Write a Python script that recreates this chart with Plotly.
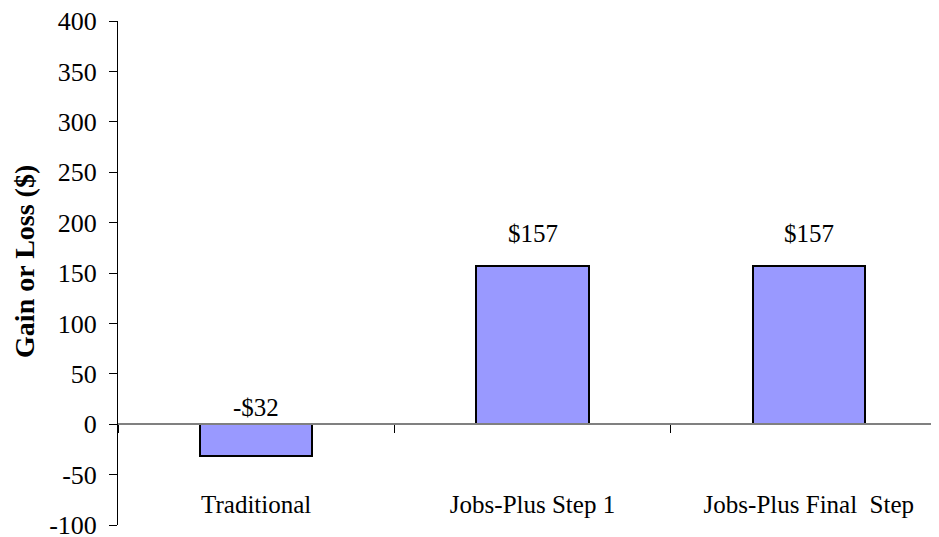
import plotly.graph_objects as go

categories = ['Traditional', 'Jobs-Plus Step 1', 'Jobs-Plus Final  Step']
gain_loss = [-32, 157, 157]
bar_labels = ['-$32', '$157', '$157']
y_tickvals = [-100, -50, 0, 50, 100, 150, 200, 250, 300, 350, 400]
y_ticktext = ['-100', '-50', '0', '50', '100', '150', '200', '250', '300', '350', '400']

font_family = 'Liberation Serif, Times New Roman, serif'

fig = go.Figure()
fig.add_trace(go.Bar(x=categories, y=gain_loss, width=0.406,
                     marker=dict(color='#9999FF', line=dict(color='black', width=2)),
                     hoverinfo='skip'))

# value labels sit above the bar top (or above zero for the loss)
for cat, val, lab in zip(categories, gain_loss, bar_labels):
    fig.add_annotation(x=cat, y=max(val, 0), text=lab, showarrow=False,
                       yanchor='bottom', yshift=17 if val > 0 else 1,
                       font=dict(family=font_family, size=25, color='black'))

# y axis title, sits a bit above the plot centre like the original
fig.add_annotation(text='<b>Gain or Loss ($)</b>', textangle=-90, showarrow=False,
                   xref='paper', yref='paper', x=0, y=0.522, xshift=-93,
                   xanchor='center', yanchor='middle',
                   font=dict(family=font_family, size=28, color='black'))

# page body has an 8px margin, so margins are offset to compensate
fig.update_layout(
    width=939, height=537,
    margin=dict(l=110, r=0, t=13, b=20),
    paper_bgcolor='white', plot_bgcolor='white',
    showlegend=False,
    font=dict(family=font_family, size=25, color='black'),
    bargap=0,
)

fig.update_xaxes(type='category', range=[-0.5, 2.5], automargin=False,
                 anchor='free', position=0.2,
                 showline=True, linecolor='#808080', linewidth=1.5,
                 ticks='outside', tickson='boundaries', ticklen=8, tickcolor='black',
                 tickfont=dict(size=25), ticklabeloverflow='allow',
                 ticklabelstandoff=58, showgrid=False, zeroline=False)

fig.update_yaxes(range=[-100, 400], tickvals=y_tickvals, ticktext=y_ticktext,
                 automargin=False, ticklabeloverflow='allow',
                 showline=True, linecolor='black', linewidth=1,
                 ticks='outside', ticklen=8, tickcolor='black',
                 tickfont=dict(size=26),
                 ticklabelstandoff=7, showgrid=False, zeroline=False)

fig.write_html('out.html')
